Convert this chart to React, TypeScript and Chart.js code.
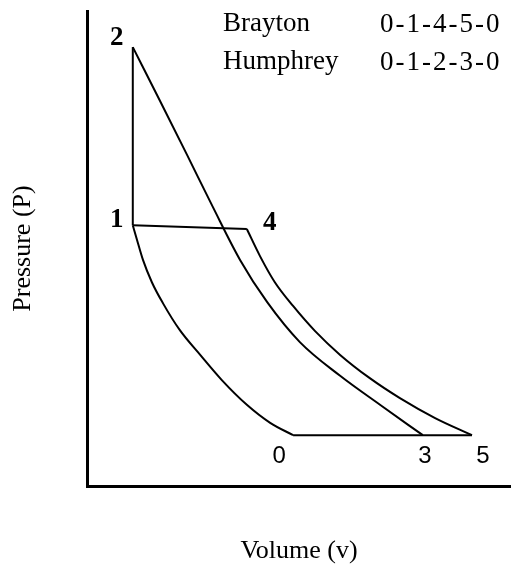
import React, { useEffect, useRef } from 'react';
import { Chart, registerables } from 'chart.js';

Chart.register(...registerables);

// State points of the cycles (volume, pressure), arbitrary units
const stateLabels = ['0', '1', '2', '3', '4', '5'];
const stateVolume = [4.86, 1.08, 1.08, 7.92, 3.77, 9.08];
const statePressure = [1.07, 5.49, 9.24, 1.07, 5.41, 1.07];

// Compression 1 <- 0 (interior points, from 1 toward 0)
const compressionVolume = [1.18, 1.32, 1.53, 1.79, 2.19, 2.67, 3.18, 3.77, 4.32];
const compressionPressure = [5.18, 4.76, 4.29, 3.85, 3.28, 2.76, 2.23, 1.71, 1.33];

// Humphrey expansion 2 -> 3 (interior points)
const humphreyExpVolume = [1.72, 2.36, 2.97, 3.61, 4.25, 5.02, 5.97, 6.91];
const humphreyExpPressure = [8.11, 6.97, 5.87, 4.76, 3.87, 3.03, 2.32, 1.71];

// Brayton expansion 4 -> 5 (interior points)
const braytonExpVolume = [4.08, 4.43, 4.86, 5.38, 5.97, 6.67, 7.38, 8.21];
const braytonExpPressure = [4.84, 4.29, 3.79, 3.26, 2.76, 2.27, 1.85, 1.43];

const cycleNames = ['Brayton', 'Humphrey'];
const cyclePaths = ['0-1-4-5-0', '0-1-2-3-0'];

const xTitle = 'Volume (v)';
const yTitle = 'Pressure (P)';

// label placement (pixel offsets from state point) and fonts
const labelStyle: Record<string, { dx: number; dy: number; font: string }> = {
  '0': { dx: -14, dy: 21, font: '24px "Liberation Sans"' },
  '1': { dx: -16, dy: -5, font: 'bold 27px "Liberation Serif"' },
  '2': { dx: -16, dy: -9, font: 'bold 27px "Liberation Serif"' },
  '3': { dx: 2, dy: 21, font: '24px "Liberation Sans"' },
  '4': { dx: 23, dy: -6, font: 'bold 27px "Liberation Serif"' },
  '5': { dx: 11, dy: 21, font: '24px "Liberation Sans"' },
};

const pt = (i: number) => ({ x: stateVolume[i], y: statePressure[i] });
const zip = (xs: number[], ys: number[]) => xs.map((x, i) => ({ x, y: ys[i] }));

const stateLabelPlugin = {
  id: 'stateLabels',
  afterDatasetsDraw(chart: any) {
    const { ctx, scales } = chart;
    ctx.save();
    ctx.fillStyle = '#000';
    ctx.textAlign = 'center';
    ctx.textBaseline = 'middle';
    stateLabels.forEach((lab, i) => {
      const st = labelStyle[lab];
      const px = scales.x.getPixelForValue(stateVolume[i]) + st.dx;
      const py = scales.y.getPixelForValue(statePressure[i]) + st.dy;
      ctx.font = st.font;
      ctx.fillText(lab, px, py);
    });
    ctx.restore();
  },
};

const cycleLegendPlugin = {
  id: 'cycleLegend',
  afterDraw(chart: any) {
    const { ctx } = chart;
    ctx.save();
    ctx.fillStyle = '#000';
    ctx.textBaseline = 'alphabetic';
    ctx.textAlign = 'left';
    ctx.font = '27px "Liberation Serif"';
    const baselines = [31, 69];
    cycleNames.forEach((name, i) => {
      ctx.letterSpacing = '0px';
      ctx.fillText(name, 223, baselines[i]);
      ctx.letterSpacing = '2px';
      ctx.fillText(cyclePaths[i], 380, baselines[i] + 1);
    });
    ctx.letterSpacing = '0px';
    ctx.restore();
  },
};

export default function App() {
  const ref = useRef<HTMLCanvasElement | null>(null);

  useEffect(() => {
    if (!ref.current) return;
    const line = (data: any[], curved: boolean) => ({
      data,
      showLine: true,
      borderColor: '#000',
      borderWidth: 2,
      pointRadius: 0,
      pointHoverRadius: 0,
      tension: curved ? 0.4 : 0,
      cubicInterpolationMode: curved ? 'monotone' : 'default',
      fill: false,
    });
    const chart = new Chart(ref.current, {
      type: 'scatter',
      data: {
        datasets: [
          line([pt(1), ...zip(compressionVolume, compressionPressure), pt(0)], true),
          line([pt(1), pt(2)], false),
          line([pt(2), ...zip(humphreyExpVolume, humphreyExpPressure), pt(3)], true),
          line([pt(1), pt(4)], false),
          line([pt(4), ...zip(braytonExpVolume, braytonExpPressure), pt(5)], true),
          line([pt(0), pt(5)], false),
        ] as any,
      },
      options: {
        responsive: false,
        animation: false,
        events: [],
        layout: { padding: { left: 0, top: 11, right: 0, bottom: 0 } },
        plugins: {
          legend: { display: false },
          tooltip: { enabled: false },
        },
        scales: {
          x: {
            type: 'linear',
            min: 0,
            max: 10,
            ticks: { display: false },
            grid: { display: false, drawTicks: false },
            border: { display: true, color: '#000', width: 3 },
            title: {
              display: true,
              text: xTitle,
              color: '#000',
              font: { family: '"Liberation Serif"', size: 26 },
              padding: { top: 49.4, bottom: 2.4 },
            },
          },
          y: {
            type: 'linear',
            min: 0,
            max: 10,
            ticks: { display: false },
            grid: { display: false, drawTicks: false },
            border: { display: true, color: '#000', width: 3 },
            title: {
              display: true,
              text: yTitle,
              color: '#000',
              font: { family: '"Liberation Serif"', size: 26 },
              padding: { top: 7.4, bottom: 48.4 },
            },
          },
        },
      },
      plugins: [stateLabelPlugin, cycleLegendPlugin],
    });
    return () => chart.destroy();
  }, []);

  return (
    <div style={{ position: 'fixed', left: 0, top: 0, width: 511, height: 569, background: '#fff' }}>
      <canvas ref={ref} width={511} height={569} style={{ display: 'block' }} />
    </div>
  );
}
